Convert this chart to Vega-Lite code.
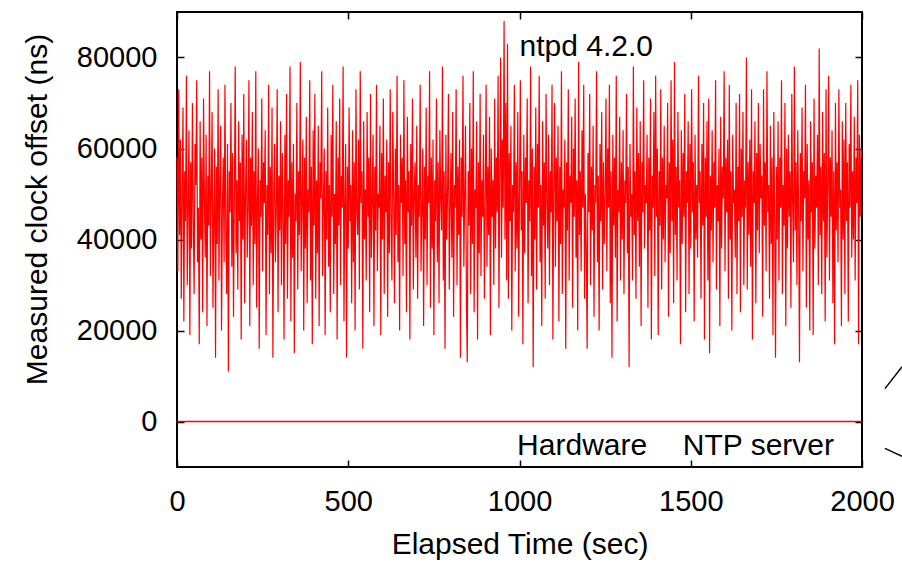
{
  "$schema": "https://vega.github.io/schema/vega-lite/v6.json",
  "autosize": "none",
  "width": 685,
  "height": 455,
  "padding": {"left": 177, "top": 12, "right": 40, "bottom": 96},
  "background": "white",
  "config": {
    "view": {"stroke": "#000000", "strokeWidth": 2},
    "font": "Liberation Sans",
    "axis": {"labelFont": "Liberation Sans", "titleFont": "Liberation Sans", "labelColor": "#000", "titleColor": "#000", "titleFontWeight": "normal", "grid": false, "domain": false, "tickColor": "#000", "tickWidth": 1.5}
  },
  "datasets": {
    "main": [
{"t":0,"v":58000},{"t":2.5,"v":33000},{"t":5,"v":73000},{"t":7.5,"v":41000},{"t":10,"v":62000},{"t":12.5,"v":27000},{"t":15,"v":50000},{"t":17.5,"v":69000},{"t":20,"v":22000},{"t":22.5,"v":55000},{"t":25,"v":44000},{"t":27.5,"v":76000},{"t":30,"v":30000},{"t":32.5,"v":48000},{"t":35,"v":64000},{"t":37.5,"v":19000},{"t":40,"v":57000},{"t":42.5,"v":38000},{"t":45,"v":70000},{"t":47.5,"v":45000},
{"t":50,"v":28000},{"t":52.5,"v":61000},{"t":55,"v":52000},{"t":57.5,"v":75000},{"t":60,"v":35000},{"t":62.5,"v":47000},{"t":65,"v":17000},{"t":67.5,"v":66000},{"t":70,"v":40000},{"t":72.5,"v":58000},{"t":75,"v":24000},{"t":77.5,"v":71000},{"t":80,"v":49000},{"t":82.5,"v":36000},{"t":85,"v":63000},{"t":87.5,"v":21000},{"t":90,"v":54000},{"t":92.5,"v":43000},{"t":95,"v":77000},{"t":97.5,"v":32000},
{"t":100,"v":50000},{"t":102.5,"v":68000},{"t":105,"v":25000},{"t":107.5,"v":45000},{"t":110,"v":60000},{"t":112.5,"v":14000},{"t":115,"v":56000},{"t":117.5,"v":39000},{"t":120,"v":73000},{"t":122.5,"v":31000},{"t":125,"v":52000},{"t":127.5,"v":65000},{"t":130,"v":20000},{"t":132.5,"v":47000},{"t":135,"v":58000},{"t":137.5,"v":35000},{"t":140,"v":74000},{"t":142.5,"v":42000},{"t":145,"v":28000},{"t":147.5,"v":61000},
{"t":150,"v":11000},{"t":152.5,"v":55000},{"t":155,"v":46000},{"t":157.5,"v":70000},{"t":160,"v":34000},{"t":162.5,"v":59000},{"t":165,"v":23000},{"t":167.5,"v":49000},{"t":170,"v":78000},{"t":172.5,"v":37000},{"t":175,"v":53000},{"t":177.5,"v":29000},{"t":180,"v":66000},{"t":182.5,"v":44000},{"t":185,"v":57000},{"t":187.5,"v":18000},{"t":190,"v":63000},{"t":192.5,"v":40000},{"t":195,"v":72000},{"t":197.5,"v":26000},
{"t":200,"v":51000},{"t":202.5,"v":62000},{"t":205,"v":36000},{"t":207.5,"v":47000},{"t":210,"v":75000},{"t":212.5,"v":21000},{"t":215,"v":58000},{"t":217.5,"v":43000},{"t":220,"v":68000},{"t":222.5,"v":30000},{"t":225,"v":55000},{"t":227.5,"v":39000},{"t":230,"v":77000},{"t":232.5,"v":25000},{"t":235,"v":49000},{"t":237.5,"v":60000},{"t":240,"v":16000},{"t":242.5,"v":53000},{"t":245,"v":45000},{"t":247.5,"v":71000},
{"t":250,"v":33000},{"t":252.5,"v":57000},{"t":255,"v":48000},{"t":257.5,"v":64000},{"t":260,"v":19000},{"t":262.5,"v":52000},{"t":265,"v":41000},{"t":267.5,"v":74000},{"t":270,"v":28000},{"t":272.5,"v":56000},{"t":275,"v":37000},{"t":277.5,"v":69000},{"t":280,"v":14000},{"t":282.5,"v":50000},{"t":285,"v":61000},{"t":287.5,"v":35000},{"t":290,"v":46000},{"t":292.5,"v":73000},{"t":295,"v":24000},{"t":297.5,"v":54000},
{"t":300,"v":42000},{"t":302.5,"v":66000},{"t":305,"v":30000},{"t":307.5,"v":59000},{"t":310,"v":47000},{"t":312.5,"v":18000},{"t":315,"v":63000},{"t":317.5,"v":39000},{"t":320,"v":72000},{"t":322.5,"v":27000},{"t":325,"v":53000},{"t":327.5,"v":45000},{"t":330,"v":78000},{"t":332.5,"v":22000},{"t":335,"v":57000},{"t":337.5,"v":36000},{"t":340,"v":61000},{"t":342.5,"v":15000},{"t":345,"v":50000},{"t":347.5,"v":44000},
{"t":350,"v":70000},{"t":352.5,"v":29000},{"t":355,"v":55000},{"t":357.5,"v":41000},{"t":360,"v":79000},{"t":362.5,"v":33000},{"t":365,"v":49000},{"t":367.5,"v":62000},{"t":370,"v":20000},{"t":372.5,"v":58000},{"t":375,"v":38000},{"t":377.5,"v":67000},{"t":380,"v":26000},{"t":382.5,"v":51000},{"t":385,"v":46000},{"t":387.5,"v":75000},{"t":390,"v":31000},{"t":392.5,"v":56000},{"t":395,"v":17000},{"t":397.5,"v":64000},
{"t":400,"v":43000},{"t":402.5,"v":72000},{"t":405,"v":27000},{"t":407.5,"v":53000},{"t":410,"v":37000},{"t":412.5,"v":65000},{"t":415,"v":21000},{"t":417.5,"v":57000},{"t":420,"v":49000},{"t":422.5,"v":77000},{"t":425,"v":32000},{"t":427.5,"v":48000},{"t":430,"v":60000},{"t":432.5,"v":19000},{"t":435,"v":55000},{"t":437.5,"v":40000},{"t":440,"v":69000},{"t":442.5,"v":34000},{"t":445,"v":52000},{"t":447.5,"v":24000},
{"t":450,"v":63000},{"t":452.5,"v":45000},{"t":455,"v":74000},{"t":457.5,"v":28000},{"t":460,"v":50000},{"t":462.5,"v":39000},{"t":465,"v":66000},{"t":467.5,"v":18000},{"t":470,"v":58000},{"t":472.5,"v":43000},{"t":475,"v":71000},{"t":477.5,"v":30000},{"t":480,"v":54000},{"t":482.5,"v":47000},{"t":485,"v":78000},{"t":487.5,"v":22000},{"t":490,"v":49000},{"t":492.5,"v":61000},{"t":495,"v":14000},{"t":497.5,"v":56000},
{"t":500,"v":38000},{"t":502.5,"v":69000},{"t":505,"v":44000},{"t":507.5,"v":52000},{"t":510,"v":26000},{"t":512.5,"v":64000},{"t":515,"v":35000},{"t":517.5,"v":57000},{"t":520,"v":20000},{"t":522.5,"v":73000},{"t":525,"v":46000},{"t":527.5,"v":41000},{"t":530,"v":62000},{"t":532.5,"v":29000},{"t":535,"v":77000},{"t":537.5,"v":48000},{"t":540,"v":55000},{"t":542.5,"v":16000},{"t":545,"v":66000},{"t":547.5,"v":40000},
{"t":550,"v":51000},{"t":552.5,"v":31000},{"t":555,"v":68000},{"t":557.5,"v":45000},{"t":560,"v":58000},{"t":562.5,"v":24000},{"t":565,"v":72000},{"t":567.5,"v":36000},{"t":570,"v":49000},{"t":572.5,"v":63000},{"t":575,"v":21000},{"t":577.5,"v":56000},{"t":580,"v":42000},{"t":582.5,"v":74000},{"t":585,"v":33000},{"t":587.5,"v":50000},{"t":590,"v":47000},{"t":592.5,"v":65000},{"t":595,"v":19000},{"t":597.5,"v":59000},
{"t":600,"v":40000},{"t":602.5,"v":71000},{"t":605,"v":28000},{"t":607.5,"v":54000},{"t":610,"v":46000},{"t":612.5,"v":62000},{"t":615,"v":23000},{"t":617.5,"v":57000},{"t":620,"v":37000},{"t":622.5,"v":73000},{"t":625,"v":44000},{"t":627.5,"v":31000},{"t":630,"v":68000},{"t":632.5,"v":50000},{"t":635,"v":26000},{"t":637.5,"v":60000},{"t":640,"v":41000},{"t":642.5,"v":76000},{"t":645,"v":35000},{"t":647.5,"v":52000},
{"t":650,"v":20000},{"t":652.5,"v":63000},{"t":655,"v":48000},{"t":657.5,"v":58000},{"t":660,"v":32000},{"t":662.5,"v":75000},{"t":665,"v":39000},{"t":667.5,"v":53000},{"t":670,"v":24000},{"t":672.5,"v":67000},{"t":675,"v":46000},{"t":677.5,"v":55000},{"t":680,"v":18000},{"t":682.5,"v":61000},{"t":685,"v":43000},{"t":687.5,"v":71000},{"t":690,"v":29000},{"t":692.5,"v":50000},{"t":695,"v":57000},{"t":697.5,"v":36000},
{"t":700,"v":65000},{"t":702.5,"v":27000},{"t":705,"v":52000},{"t":707.5,"v":45000},{"t":710,"v":74000},{"t":712.5,"v":33000},{"t":715,"v":47000},{"t":717.5,"v":60000},{"t":720,"v":21000},{"t":722.5,"v":56000},{"t":725,"v":40000},{"t":727.5,"v":69000},{"t":730,"v":30000},{"t":732.5,"v":54000},{"t":735,"v":48000},{"t":737.5,"v":77000},{"t":740,"v":25000},{"t":742.5,"v":58000},{"t":745,"v":38000},{"t":747.5,"v":62000},
{"t":750,"v":19000},{"t":752.5,"v":53000},{"t":755,"v":44000},{"t":757.5,"v":71000},{"t":760,"v":35000},{"t":762.5,"v":57000},{"t":765,"v":26000},{"t":767.5,"v":64000},{"t":770,"v":49000},{"t":772.5,"v":42000},{"t":775,"v":78000},{"t":777.5,"v":31000},{"t":780,"v":55000},{"t":782.5,"v":16000},{"t":785,"v":63000},{"t":787.5,"v":40000},{"t":790,"v":50000},{"t":792.5,"v":72000},{"t":795,"v":29000},{"t":797.5,"v":47000},
{"t":800,"v":59000},{"t":802.5,"v":36000},{"t":805,"v":68000},{"t":807.5,"v":23000},{"t":810,"v":52000},{"t":812.5,"v":47000},{"t":815,"v":73000},{"t":817.5,"v":30000},{"t":820,"v":56000},{"t":822.5,"v":41000},{"t":825,"v":62000},{"t":827.5,"v":14000},{"t":830,"v":58000},{"t":832.5,"v":45000},{"t":835,"v":76000},{"t":837.5,"v":34000},{"t":840,"v":50000},{"t":842.5,"v":65000},{"t":845,"v":26000},{"t":847.5,"v":13000},
{"t":850,"v":55000},{"t":852.5,"v":43000},{"t":855,"v":70000},{"t":857.5,"v":28000},{"t":860,"v":60000},{"t":862.5,"v":39000},{"t":865,"v":77000},{"t":867.5,"v":24000},{"t":870,"v":51000},{"t":872.5,"v":47000},{"t":875,"v":66000},{"t":877.5,"v":18000},{"t":880,"v":57000},{"t":882.5,"v":37000},{"t":885,"v":72000},{"t":887.5,"v":32000},{"t":890,"v":53000},{"t":892.5,"v":45000},{"t":895,"v":63000},{"t":897.5,"v":27000},
{"t":900,"v":48000},{"t":902.5,"v":74000},{"t":905,"v":34000},{"t":907.5,"v":56000},{"t":910,"v":41000},{"t":912.5,"v":67000},{"t":915,"v":19000},{"t":917.5,"v":60000},{"t":920,"v":45000},{"t":922.5,"v":53000},{"t":925,"v":30000},{"t":927.5,"v":71000},{"t":930,"v":38000},{"t":932.5,"v":58000},{"t":935,"v":46000},{"t":937.5,"v":76000},{"t":940,"v":25000},{"t":942.5,"v":54000},{"t":945,"v":80000},{"t":947.5,"v":36000},
{"t":950,"v":62000},{"t":952.5,"v":47000},{"t":955,"v":88000},{"t":957.5,"v":40000},{"t":960,"v":70000},{"t":962.5,"v":31000},{"t":965,"v":83000},{"t":967.5,"v":27000},{"t":970,"v":59000},{"t":972.5,"v":44000},{"t":975,"v":65000},{"t":977.5,"v":20000},{"t":980,"v":52000},{"t":982.5,"v":46000},{"t":985,"v":74000},{"t":987.5,"v":33000},{"t":990,"v":57000},{"t":992.5,"v":38000},{"t":995,"v":68000},{"t":997.5,"v":23000},
{"t":1000,"v":50000},{"t":1002.5,"v":75000},{"t":1005,"v":42000},{"t":1007.5,"v":55000},{"t":1010,"v":17000},{"t":1012.5,"v":63000},{"t":1015,"v":37000},{"t":1017.5,"v":58000},{"t":1020,"v":48000},{"t":1022.5,"v":71000},{"t":1025,"v":26000},{"t":1027.5,"v":53000},{"t":1030,"v":44000},{"t":1032.5,"v":78000},{"t":1035,"v":32000},{"t":1037.5,"v":60000},{"t":1040,"v":12000},{"t":1042.5,"v":56000},{"t":1045,"v":40000},{"t":1047.5,"v":69000},
{"t":1050,"v":29000},{"t":1052.5,"v":61000},{"t":1055,"v":47000},{"t":1057.5,"v":76000},{"t":1060,"v":35000},{"t":1062.5,"v":52000},{"t":1065,"v":21000},{"t":1067.5,"v":66000},{"t":1070,"v":43000},{"t":1072.5,"v":57000},{"t":1075,"v":27000},{"t":1077.5,"v":72000},{"t":1080,"v":49000},{"t":1082.5,"v":38000},{"t":1085,"v":63000},{"t":1087.5,"v":30000},{"t":1090,"v":55000},{"t":1092.5,"v":46000},{"t":1095,"v":74000},{"t":1097.5,"v":18000},
{"t":1100,"v":52000},{"t":1102.5,"v":70000},{"t":1105,"v":34000},{"t":1107.5,"v":58000},{"t":1110,"v":44000},{"t":1112.5,"v":65000},{"t":1115,"v":22000},{"t":1117.5,"v":56000},{"t":1120,"v":39000},{"t":1122.5,"v":77000},{"t":1125,"v":28000},{"t":1127.5,"v":51000},{"t":1130,"v":47000},{"t":1132.5,"v":62000},{"t":1135,"v":16000},{"t":1137.5,"v":57000},{"t":1140,"v":42000},{"t":1142.5,"v":73000},{"t":1145,"v":31000},{"t":1147.5,"v":54000},
{"t":1150,"v":48000},{"t":1152.5,"v":67000},{"t":1155,"v":25000},{"t":1157.5,"v":60000},{"t":1160,"v":45000},{"t":1162.5,"v":71000},{"t":1165,"v":36000},{"t":1167.5,"v":53000},{"t":1170,"v":20000},{"t":1172.5,"v":79000},{"t":1175,"v":41000},{"t":1177.5,"v":55000},{"t":1180,"v":33000},{"t":1182.5,"v":64000},{"t":1185,"v":47000},{"t":1187.5,"v":74000},{"t":1190,"v":27000},{"t":1192.5,"v":50000},{"t":1195,"v":38000},{"t":1197.5,"v":16000},
{"t":1200,"v":59000},{"t":1202.5,"v":46000},{"t":1205,"v":72000},{"t":1207.5,"v":30000},{"t":1210,"v":56000},{"t":1212.5,"v":42000},{"t":1215,"v":65000},{"t":1217.5,"v":23000},{"t":1220,"v":52000},{"t":1222.5,"v":48000},{"t":1225,"v":77000},{"t":1227.5,"v":35000},{"t":1230,"v":54000},{"t":1232.5,"v":20000},{"t":1235,"v":61000},{"t":1237.5,"v":44000},{"t":1240,"v":68000},{"t":1242.5,"v":29000},{"t":1245,"v":57000},{"t":1247.5,"v":39000},
{"t":1250,"v":50000},{"t":1252.5,"v":71000},{"t":1255,"v":33000},{"t":1257.5,"v":60000},{"t":1260,"v":47000},{"t":1262.5,"v":74000},{"t":1265,"v":26000},{"t":1267.5,"v":55000},{"t":1270,"v":14000},{"t":1272.5,"v":63000},{"t":1275,"v":43000},{"t":1277.5,"v":58000},{"t":1280,"v":36000},{"t":1282.5,"v":76000},{"t":1285,"v":22000},{"t":1287.5,"v":51000},{"t":1290,"v":46000},{"t":1292.5,"v":67000},{"t":1295,"v":31000},{"t":1297.5,"v":57000},
{"t":1300,"v":40000},{"t":1302.5,"v":64000},{"t":1305,"v":28000},{"t":1307.5,"v":53000},{"t":1310,"v":48000},{"t":1312.5,"v":72000},{"t":1315,"v":37000},{"t":1317.5,"v":56000},{"t":1320,"v":12000},{"t":1322.5,"v":61000},{"t":1325,"v":45000},{"t":1327.5,"v":50000},{"t":1330,"v":31000},{"t":1332.5,"v":78000},{"t":1335,"v":41000},{"t":1337.5,"v":55000},{"t":1340,"v":27000},{"t":1342.5,"v":69000},{"t":1345,"v":44000},{"t":1347.5,"v":59000},
{"t":1350,"v":34000},{"t":1352.5,"v":66000},{"t":1355,"v":21000},{"t":1357.5,"v":57000},{"t":1360,"v":46000},{"t":1362.5,"v":75000},{"t":1365,"v":38000},{"t":1367.5,"v":52000},{"t":1370,"v":48000},{"t":1372.5,"v":63000},{"t":1375,"v":25000},{"t":1377.5,"v":58000},{"t":1380,"v":42000},{"t":1382.5,"v":71000},{"t":1385,"v":18000},{"t":1387.5,"v":54000},{"t":1390,"v":47000},{"t":1392.5,"v":68000},{"t":1395,"v":32000},{"t":1397.5,"v":76000},
{"t":1400,"v":45000},{"t":1402.5,"v":60000},{"t":1405,"v":19000},{"t":1407.5,"v":55000},{"t":1410,"v":43000},{"t":1412.5,"v":73000},{"t":1415,"v":29000},{"t":1417.5,"v":58000},{"t":1420,"v":40000},{"t":1422.5,"v":65000},{"t":1425,"v":35000},{"t":1427.5,"v":52000},{"t":1430,"v":49000},{"t":1432.5,"v":70000},{"t":1435,"v":23000},{"t":1437.5,"v":57000},{"t":1440,"v":37000},{"t":1442.5,"v":75000},{"t":1445,"v":44000},{"t":1447.5,"v":62000},
{"t":1450,"v":26000},{"t":1452.5,"v":79000},{"t":1455,"v":41000},{"t":1457.5,"v":56000},{"t":1460,"v":31000},{"t":1462.5,"v":68000},{"t":1465,"v":47000},{"t":1467.5,"v":53000},{"t":1470,"v":17000},{"t":1472.5,"v":64000},{"t":1475,"v":39000},{"t":1477.5,"v":59000},{"t":1480,"v":45000},{"t":1482.5,"v":72000},{"t":1485,"v":24000},{"t":1487.5,"v":55000},{"t":1490,"v":48000},{"t":1492.5,"v":66000},{"t":1495,"v":28000},{"t":1497.5,"v":61000},
{"t":1500,"v":38000},{"t":1502.5,"v":73000},{"t":1505,"v":46000},{"t":1507.5,"v":57000},{"t":1510,"v":22000},{"t":1512.5,"v":63000},{"t":1515,"v":40000},{"t":1517.5,"v":52000},{"t":1520,"v":36000},{"t":1522.5,"v":76000},{"t":1525,"v":48000},{"t":1527.5,"v":55000},{"t":1530,"v":27000},{"t":1532.5,"v":61000},{"t":1535,"v":43000},{"t":1537.5,"v":70000},{"t":1540,"v":18000},{"t":1542.5,"v":58000},{"t":1545,"v":45000},{"t":1547.5,"v":66000},
{"t":1550,"v":31000},{"t":1552.5,"v":71000},{"t":1555,"v":15000},{"t":1557.5,"v":54000},{"t":1560,"v":42000},{"t":1562.5,"v":64000},{"t":1565,"v":35000},{"t":1567.5,"v":57000},{"t":1570,"v":47000},{"t":1572.5,"v":75000},{"t":1575,"v":29000},{"t":1577.5,"v":52000},{"t":1580,"v":44000},{"t":1582.5,"v":60000},{"t":1585,"v":21000},{"t":1587.5,"v":67000},{"t":1590,"v":38000},{"t":1592.5,"v":56000},{"t":1595,"v":49000},{"t":1597.5,"v":77000},
{"t":1600,"v":33000},{"t":1602.5,"v":58000},{"t":1605,"v":46000},{"t":1607.5,"v":62000},{"t":1610,"v":27000},{"t":1612.5,"v":74000},{"t":1615,"v":40000},{"t":1617.5,"v":55000},{"t":1620,"v":20000},{"t":1622.5,"v":63000},{"t":1625,"v":48000},{"t":1627.5,"v":51000},{"t":1630,"v":36000},{"t":1632.5,"v":70000},{"t":1635,"v":28000},{"t":1637.5,"v":56000},{"t":1640,"v":44000},{"t":1642.5,"v":72000},{"t":1645,"v":24000},{"t":1647.5,"v":60000},
{"t":1650,"v":45000},{"t":1652.5,"v":68000},{"t":1655,"v":30000},{"t":1657.5,"v":53000},{"t":1660,"v":47000},{"t":1662.5,"v":80000},{"t":1665,"v":29000},{"t":1667.5,"v":57000},{"t":1670,"v":41000},{"t":1672.5,"v":62000},{"t":1675,"v":34000},{"t":1677.5,"v":73000},{"t":1680,"v":18000},{"t":1682.5,"v":55000},{"t":1685,"v":48000},{"t":1687.5,"v":66000},{"t":1690,"v":26000},{"t":1692.5,"v":59000},{"t":1695,"v":42000},{"t":1697.5,"v":70000},
{"t":1700,"v":37000},{"t":1702.5,"v":61000},{"t":1705,"v":49000},{"t":1707.5,"v":54000},{"t":1710,"v":23000},{"t":1712.5,"v":73000},{"t":1715,"v":43000},{"t":1717.5,"v":57000},{"t":1720,"v":33000},{"t":1722.5,"v":77000},{"t":1725,"v":46000},{"t":1727.5,"v":52000},{"t":1730,"v":27000},{"t":1732.5,"v":65000},{"t":1735,"v":39000},{"t":1737.5,"v":58000},{"t":1740,"v":19000},{"t":1742.5,"v":68000},{"t":1745,"v":44000},{"t":1747.5,"v":14000},
{"t":1750,"v":56000},{"t":1752.5,"v":40000},{"t":1755,"v":66000},{"t":1757.5,"v":31000},{"t":1760,"v":58000},{"t":1762.5,"v":47000},{"t":1765,"v":75000},{"t":1767.5,"v":28000},{"t":1770,"v":52000},{"t":1772.5,"v":43000},{"t":1775,"v":70000},{"t":1777.5,"v":21000},{"t":1780,"v":60000},{"t":1782.5,"v":38000},{"t":1785,"v":63000},{"t":1787.5,"v":45000},{"t":1790,"v":55000},{"t":1792.5,"v":25000},{"t":1795,"v":72000},{"t":1797.5,"v":48000},
{"t":1800,"v":35000},{"t":1802.5,"v":78000},{"t":1805,"v":42000},{"t":1807.5,"v":57000},{"t":1810,"v":30000},{"t":1812.5,"v":64000},{"t":1815,"v":46000},{"t":1817.5,"v":13000},{"t":1820,"v":59000},{"t":1822.5,"v":44000},{"t":1825,"v":69000},{"t":1827.5,"v":33000},{"t":1830,"v":55000},{"t":1832.5,"v":49000},{"t":1835,"v":74000},{"t":1837.5,"v":25000},{"t":1840,"v":61000},{"t":1842.5,"v":40000},{"t":1845,"v":53000},{"t":1847.5,"v":20000},
{"t":1850,"v":66000},{"t":1852.5,"v":46000},{"t":1855,"v":57000},{"t":1857.5,"v":19000},{"t":1860,"v":71000},{"t":1862.5,"v":38000},{"t":1865,"v":54000},{"t":1867.5,"v":47000},{"t":1870,"v":63000},{"t":1872.5,"v":30000},{"t":1875,"v":82000},{"t":1877.5,"v":41000},{"t":1880,"v":56000},{"t":1882.5,"v":28000},{"t":1885,"v":68000},{"t":1887.5,"v":44000},{"t":1890,"v":59000},{"t":1892.5,"v":22000},{"t":1895,"v":73000},{"t":1897.5,"v":36000},
{"t":1900,"v":52000},{"t":1902.5,"v":76000},{"t":1905,"v":31000},{"t":1907.5,"v":58000},{"t":1910,"v":45000},{"t":1912.5,"v":64000},{"t":1915,"v":26000},{"t":1917.5,"v":55000},{"t":1920,"v":17000},{"t":1922.5,"v":70000},{"t":1925,"v":42000},{"t":1927.5,"v":57000},{"t":1930,"v":35000},{"t":1932.5,"v":73000},{"t":1935,"v":47000},{"t":1937.5,"v":51000},{"t":1940,"v":21000},{"t":1942.5,"v":66000},{"t":1945,"v":40000},{"t":1947.5,"v":62000},
{"t":1950,"v":28000},{"t":1952.5,"v":70000},{"t":1955,"v":44000},{"t":1957.5,"v":57000},{"t":1960,"v":22000},{"t":1962.5,"v":61000},{"t":1965,"v":47000},{"t":1967.5,"v":74000},{"t":1970,"v":36000},{"t":1972.5,"v":55000},{"t":1975,"v":40000},{"t":1977.5,"v":67000},{"t":1980,"v":31000},{"t":1982.5,"v":58000},{"t":1985,"v":48000},{"t":1987.5,"v":75000},{"t":1990,"v":17000},{"t":1992.5,"v":63000},{"t":1995,"v":45000},{"t":1997.5,"v":60000},
{"t":2000,"v":58000}
    ],
    "hw": [{"t":0,"v":0},{"t":2000,"v":0}],
    "labels": [
      {"t":1000,"v":80400,"label":"ntpd 4.2.0"},
      {"t":993,"v":-7450,"label":"Hardware"},
      {"t":1477,"v":-7450,"label":"NTP server"}
    ],
    "segs": [
      {"t":2067,"v":7233,"t2":2117,"v2":12055},
      {"t":2067,"v":-5918,"t2":2117,"v2":-7671}
    ]
  },
  "layer": [
    {
      "data": {"name": "main"},
      "mark": {"type": "line", "color": "#ff0000", "strokeWidth": 1.2},
      "encoding": {
        "x": {"field": "t", "type": "quantitative", "scale": {"domain": [0, 2000], "nice": false},
              "axis": {"orient": "bottom", "title": "Elapsed Time (sec)", "values": [0, 500, 1000, 1500, 2000], "format": "d",
                       "tickSize": -7, "labelPadding": 27, "labelFontSize": 29, "labelBaseline": "top", "labelFlush": false,
                       "titleFontSize": 30, "titleY": 86, "titleBaseline": "alphabetic"}},
        "y": {"field": "v", "type": "quantitative", "scale": {"domain": [-10000, 90000], "nice": false},
              "axis": {"orient": "left", "title": "Measured clock offset (ns)", "values": [0, 20000, 40000, 60000, 80000], "format": "d",
                       "tickSize": -7, "labelPadding": 27, "labelFontSize": 29, "labelFlush": false,
                       "titleFontSize": 30, "titleX": -131, "titleY": 197, "titleAngle": -90, "titleAlign": "center", "titleBaseline": "alphabetic"}}
      }
    },
    {
      "data": {"name": "hw"},
      "mark": {"type": "line", "color": "#ff0000", "strokeWidth": 1.5},
      "encoding": {
        "x": {"field": "t", "type": "quantitative", "scale": {"domain": [0, 2000], "nice": false},
              "axis": {"orient": "top", "title": null, "labels": false, "values": [0, 500, 1000, 1500, 2000], "tickSize": -7}},
        "y": {"field": "v", "type": "quantitative", "scale": {"domain": [-10000, 90000], "nice": false},
              "axis": {"orient": "right", "title": null, "labels": false, "values": [0, 20000, 40000, 60000, 80000], "tickSize": -7}}
      }
    },
    {
      "data": {"name": "labels"},
      "mark": {"type": "text", "align": "left", "baseline": "alphabetic", "fontSize": 30, "font": "Liberation Sans", "color": "#000"},
      "encoding": {
        "x": {"field": "t", "type": "quantitative", "axis": null},
        "y": {"field": "v", "type": "quantitative", "axis": null},
        "text": {"field": "label"}
      }
    },
    {
      "data": {"name": "segs"},
      "mark": {"type": "rule", "color": "#000", "strokeWidth": 1.5},
      "encoding": {
        "x": {"field": "t", "type": "quantitative", "axis": null},
        "y": {"field": "v", "type": "quantitative", "axis": null},
        "x2": {"field": "t2"},
        "y2": {"field": "v2"}
      }
    }
  ],
  "resolve": {"axis": {"x": "independent", "y": "independent"}}
}
